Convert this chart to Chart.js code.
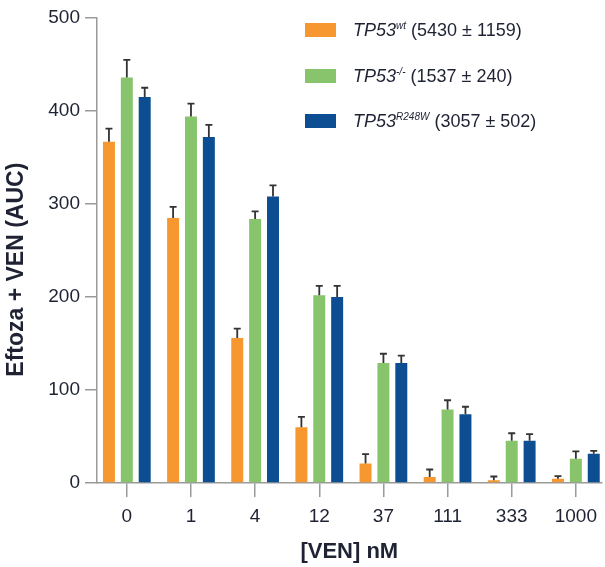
<!DOCTYPE html>
<html>
<head>
<meta charset="utf-8">
<script src="https://cdn.jsdelivr.net/npm/chart.js@4"></script>
<style>
  body { margin: 0; background: #fff; }
  #wrap { position: relative; width: 605px; height: 567px; }
  #legend { position: absolute; left: 305px; top: 0; font-family: "Liberation Sans", Arial, sans-serif; font-size: 18px; color: #1e2233; }
  .row { position: absolute; left: 0; height: 20px; white-space: nowrap; display: flex; align-items: center; }
  .box { width: 31px; height: 14px; margin-right: 17px; }
  .row i sup { font-size: 10px; vertical-align: 7px; }
</style>
</head>
<body>
<div id="wrap">
  <canvas id="chart" width="605" height="567"></canvas>
  <div id="legend"></div>
</div>
<script>
const categories = ["0", "1", "4", "12", "37", "111", "333", "1000"];
const seriesNames = ["wt", "-/-", "R248W"];
const seriesSummary = ["5430 ± 1159", "1537 ± 240", "3057 ± 502"];
const seriesColors = ["#f7972f", "#88c46b", "#0c4e91"];

const wtValues = [367, 285, 156, 60, 21, 6.5, 3, 4.5];
const wtErrors = [14, 12, 10, 11, 10, 8, 4, 3];
const koValues = [436, 394, 284, 202, 129, 79, 45.5, 26];
const koErrors = [19, 14, 8, 10, 10, 10, 8, 8];
const mutValues = [415, 372, 308, 200, 129, 74, 45.5, 31.5];
const mutErrors = [10, 13, 12, 12, 8, 8, 7, 3];

const yTicks = [0, 100, 200, 300, 400, 500];

const textColor = "#1e2233";
const axisColor = "#9a9a9a";
const fontFamily = "'Liberation Sans', Arial, sans-serif";

const allValues = [wtValues, koValues, mutValues];
const allErrors = [wtErrors, koErrors, mutErrors];

// legend with italic gene name and superscript genotype
const legend = document.getElementById("legend");
const rowTops = [20, 66, 111];
seriesNames.forEach((name, i) => {
  const row = document.createElement("div");
  row.className = "row";
  row.style.top = rowTops[i] + "px";
  row.innerHTML = `<span class="box" style="background:${seriesColors[i]}"></span><i>TP53<sup>${name}</sup></i>&nbsp;(${seriesSummary[i]})`;
  legend.appendChild(row);
});

const errorBars = {
  id: "errorBars",
  afterDatasetsDraw(chart) {
    const ctx = chart.ctx;
    const y = chart.scales.y;
    ctx.save();
    ctx.strokeStyle = "#333333";
    ctx.lineWidth = 1.8;
    chart.data.datasets.forEach((ds, i) => {
      const meta = chart.getDatasetMeta(i);
      meta.data.forEach((bar, j) => {
        const top = y.getPixelForValue(allValues[i][j] + allErrors[i][j]);
        ctx.beginPath();
        ctx.moveTo(bar.x, bar.y);
        ctx.lineTo(bar.x, top);
        ctx.moveTo(bar.x - 3.5, top);
        ctx.lineTo(bar.x + 3.5, top);
        ctx.stroke();
      });
    });
    ctx.restore();
  },
};

new Chart(document.getElementById("chart"), {
  type: "bar",
  data: {
    datasets: allValues.map((values, i) => ({
      label: "TP53 " + seriesNames[i],
      data: values.map((v, j) => ({ x: j, y: v })),
      backgroundColor: seriesColors[i],
      borderWidth: 0,
      categoryPercentage: 0.836,
      barPercentage: 0.67,
    })),
  },
  options: {
    responsive: false,
    animation: false,
    layout: { padding: { top: 18, left: 0, right: 0, bottom: 0 } },
    plugins: {
      legend: { display: false },
      tooltip: { enabled: false },
    },
    scales: {
      x: {
        type: "linear",
        offset: false,
        min: -0.465,
        max: 7.4,
        afterBuildTicks: (scale) => {
          scale.ticks = categories.map((c, i) => ({ value: i }));
        },
        afterFit: (scale) => {
          scale.height = 84;
        },
        ticks: {
          callback: (value) => categories[value],
          color: textColor,
          font: { family: fontFamily, size: 19 },
          padding: 8,
          maxRotation: 0,
        },
        grid: { offset: false, drawOnChartArea: false, drawTicks: true, tickLength: 14, color: axisColor, lineWidth: 1.5 },
        border: { display: true, color: axisColor, width: 1.5 },
        title: {
          display: true,
          text: "[VEN] nM",
          color: textColor,
          font: { family: fontFamily, size: 22, weight: "bold" },
          padding: { top: 0, bottom: 2 },
        },
      },
      y: {
        min: 0,
        max: 500,
        afterBuildTicks: (scale) => {
          scale.ticks = yTicks.map((v) => ({ value: v }));
        },
        afterFit: (scale) => {
          scale.width = 97;
        },
        ticks: {
          color: textColor,
          font: { family: fontFamily, size: 19 },
          padding: 5,
        },
        grid: { drawOnChartArea: false, drawTicks: true, tickLength: 12, color: axisColor, lineWidth: 1.5 },
        border: { display: true, color: axisColor, width: 1.5 },
        title: {
          display: true,
          text: "Eftoza + VEN (AUC)      ",
          color: textColor,
          font: { family: fontFamily, size: 23, weight: "bold" },
          padding: { top: 3, bottom: 0 },
        },
      },
    },
  },
  plugins: [errorBars],
});
</script>
</body>
</html>
